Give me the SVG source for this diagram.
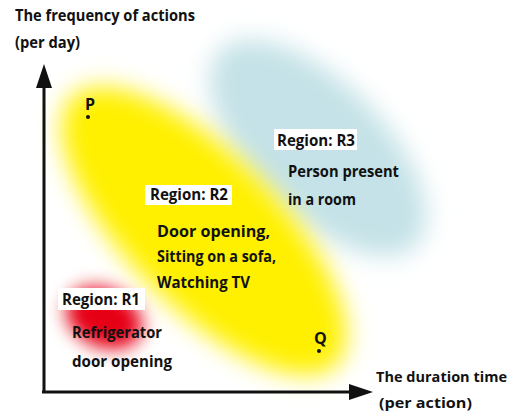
<svg xmlns="http://www.w3.org/2000/svg" width="514" height="415" viewBox="0 0 514 415">
<style>
text{font-family:"Open Sans","Liberation Sans",sans-serif;font-weight:700;font-size:16px;fill:#111}
.sm{font-size:14.5px}
.lbl{fill:#fff}
.ax{stroke:#111;stroke-width:3;fill:none}
</style>
<defs>
<filter id="b10" x="-50%" y="-50%" width="200%" height="200%"><feGaussianBlur stdDeviation="12"/></filter>
<filter id="b8" x="-80%" y="-80%" width="260%" height="260%"><feGaussianBlur stdDeviation="9"/></filter>
<marker id="arr" viewBox="0 0 24 16" refX="2" refY="8" markerWidth="24" markerHeight="16" markerUnits="userSpaceOnUse" orient="auto"><path d="M0,0 L24,8 L0,16 Z" fill="#111"/></marker>
</defs>
<rect width="514" height="415" fill="#fff"/>
<g id="region-R3">
<ellipse cx="318" cy="148" rx="138" ry="66" transform="rotate(45 318 148)" fill="#c4e2e7" filter="url(#b10)"/>
</g>
<g id="region-R2">
<ellipse cx="204" cy="231" rx="188" ry="76" transform="rotate(45.5 204 231)" fill="#fff000" filter="url(#b10)"/>
</g>
<g id="region-R1">
<ellipse cx="104" cy="318" rx="40" ry="29" transform="rotate(25 104 318)" fill="#e60012" filter="url(#b8)"/>
</g>
<g id="connectors">
<line class="ax" x1="44" y1="393" x2="44" y2="86" marker-end="url(#arr)"/>
<line class="ax" x1="42" y1="392" x2="351" y2="392" marker-end="url(#arr)"/>
</g>
<g id="axis-y-label">
<text x="15" y="21" textLength="180" lengthAdjust="spacingAndGlyphs">The frequency of actions</text>
<text x="15" y="48" textLength="65" lengthAdjust="spacingAndGlyphs">(per day)</text>
</g>
<g id="axis-x-label">
<text class="sm" x="376" y="382" textLength="131" lengthAdjust="spacingAndGlyphs">The duration time</text>
<text class="sm" x="379" y="408" textLength="93" lengthAdjust="spacingAndGlyphs">(per action)</text>
</g>
<g id="point-P">
<text x="85" y="110">P</text>
<circle cx="88" cy="117" r="2" fill="#111"/>
</g>
<g id="point-Q">
<text x="314" y="344">Q</text>
<circle cx="319" cy="351" r="2" fill="#111"/>
</g>
<g id="label-R3">
<rect class="lbl" x="274" y="129" width="83" height="21"/>
<text x="277" y="146" textLength="78" lengthAdjust="spacingAndGlyphs">Region: R3</text>
<text x="288" y="177" textLength="111" lengthAdjust="spacingAndGlyphs">Person present</text>
<text x="288" y="205" textLength="68" lengthAdjust="spacingAndGlyphs">in a room</text>
</g>
<g id="label-R2">
<rect class="lbl" x="145" y="185" width="87" height="20"/>
<text x="150" y="200" textLength="78" lengthAdjust="spacingAndGlyphs">Region: R2</text>
<text x="157" y="237" textLength="113" lengthAdjust="spacingAndGlyphs">Door opening,</text>
<text x="157" y="262" textLength="119" lengthAdjust="spacingAndGlyphs">Sitting on a sofa,</text>
<text x="157" y="288" textLength="93" lengthAdjust="spacingAndGlyphs">Watching TV</text>
</g>
<g id="label-R1">
<rect class="lbl" x="58" y="288" width="87" height="22"/>
<text x="62" y="305" textLength="78" lengthAdjust="spacingAndGlyphs">Region: R1</text>
<text x="72" y="338" textLength="90" lengthAdjust="spacingAndGlyphs">Refrigerator</text>
<text x="72" y="367" textLength="100" lengthAdjust="spacingAndGlyphs">door opening</text>
</g>
</svg>
